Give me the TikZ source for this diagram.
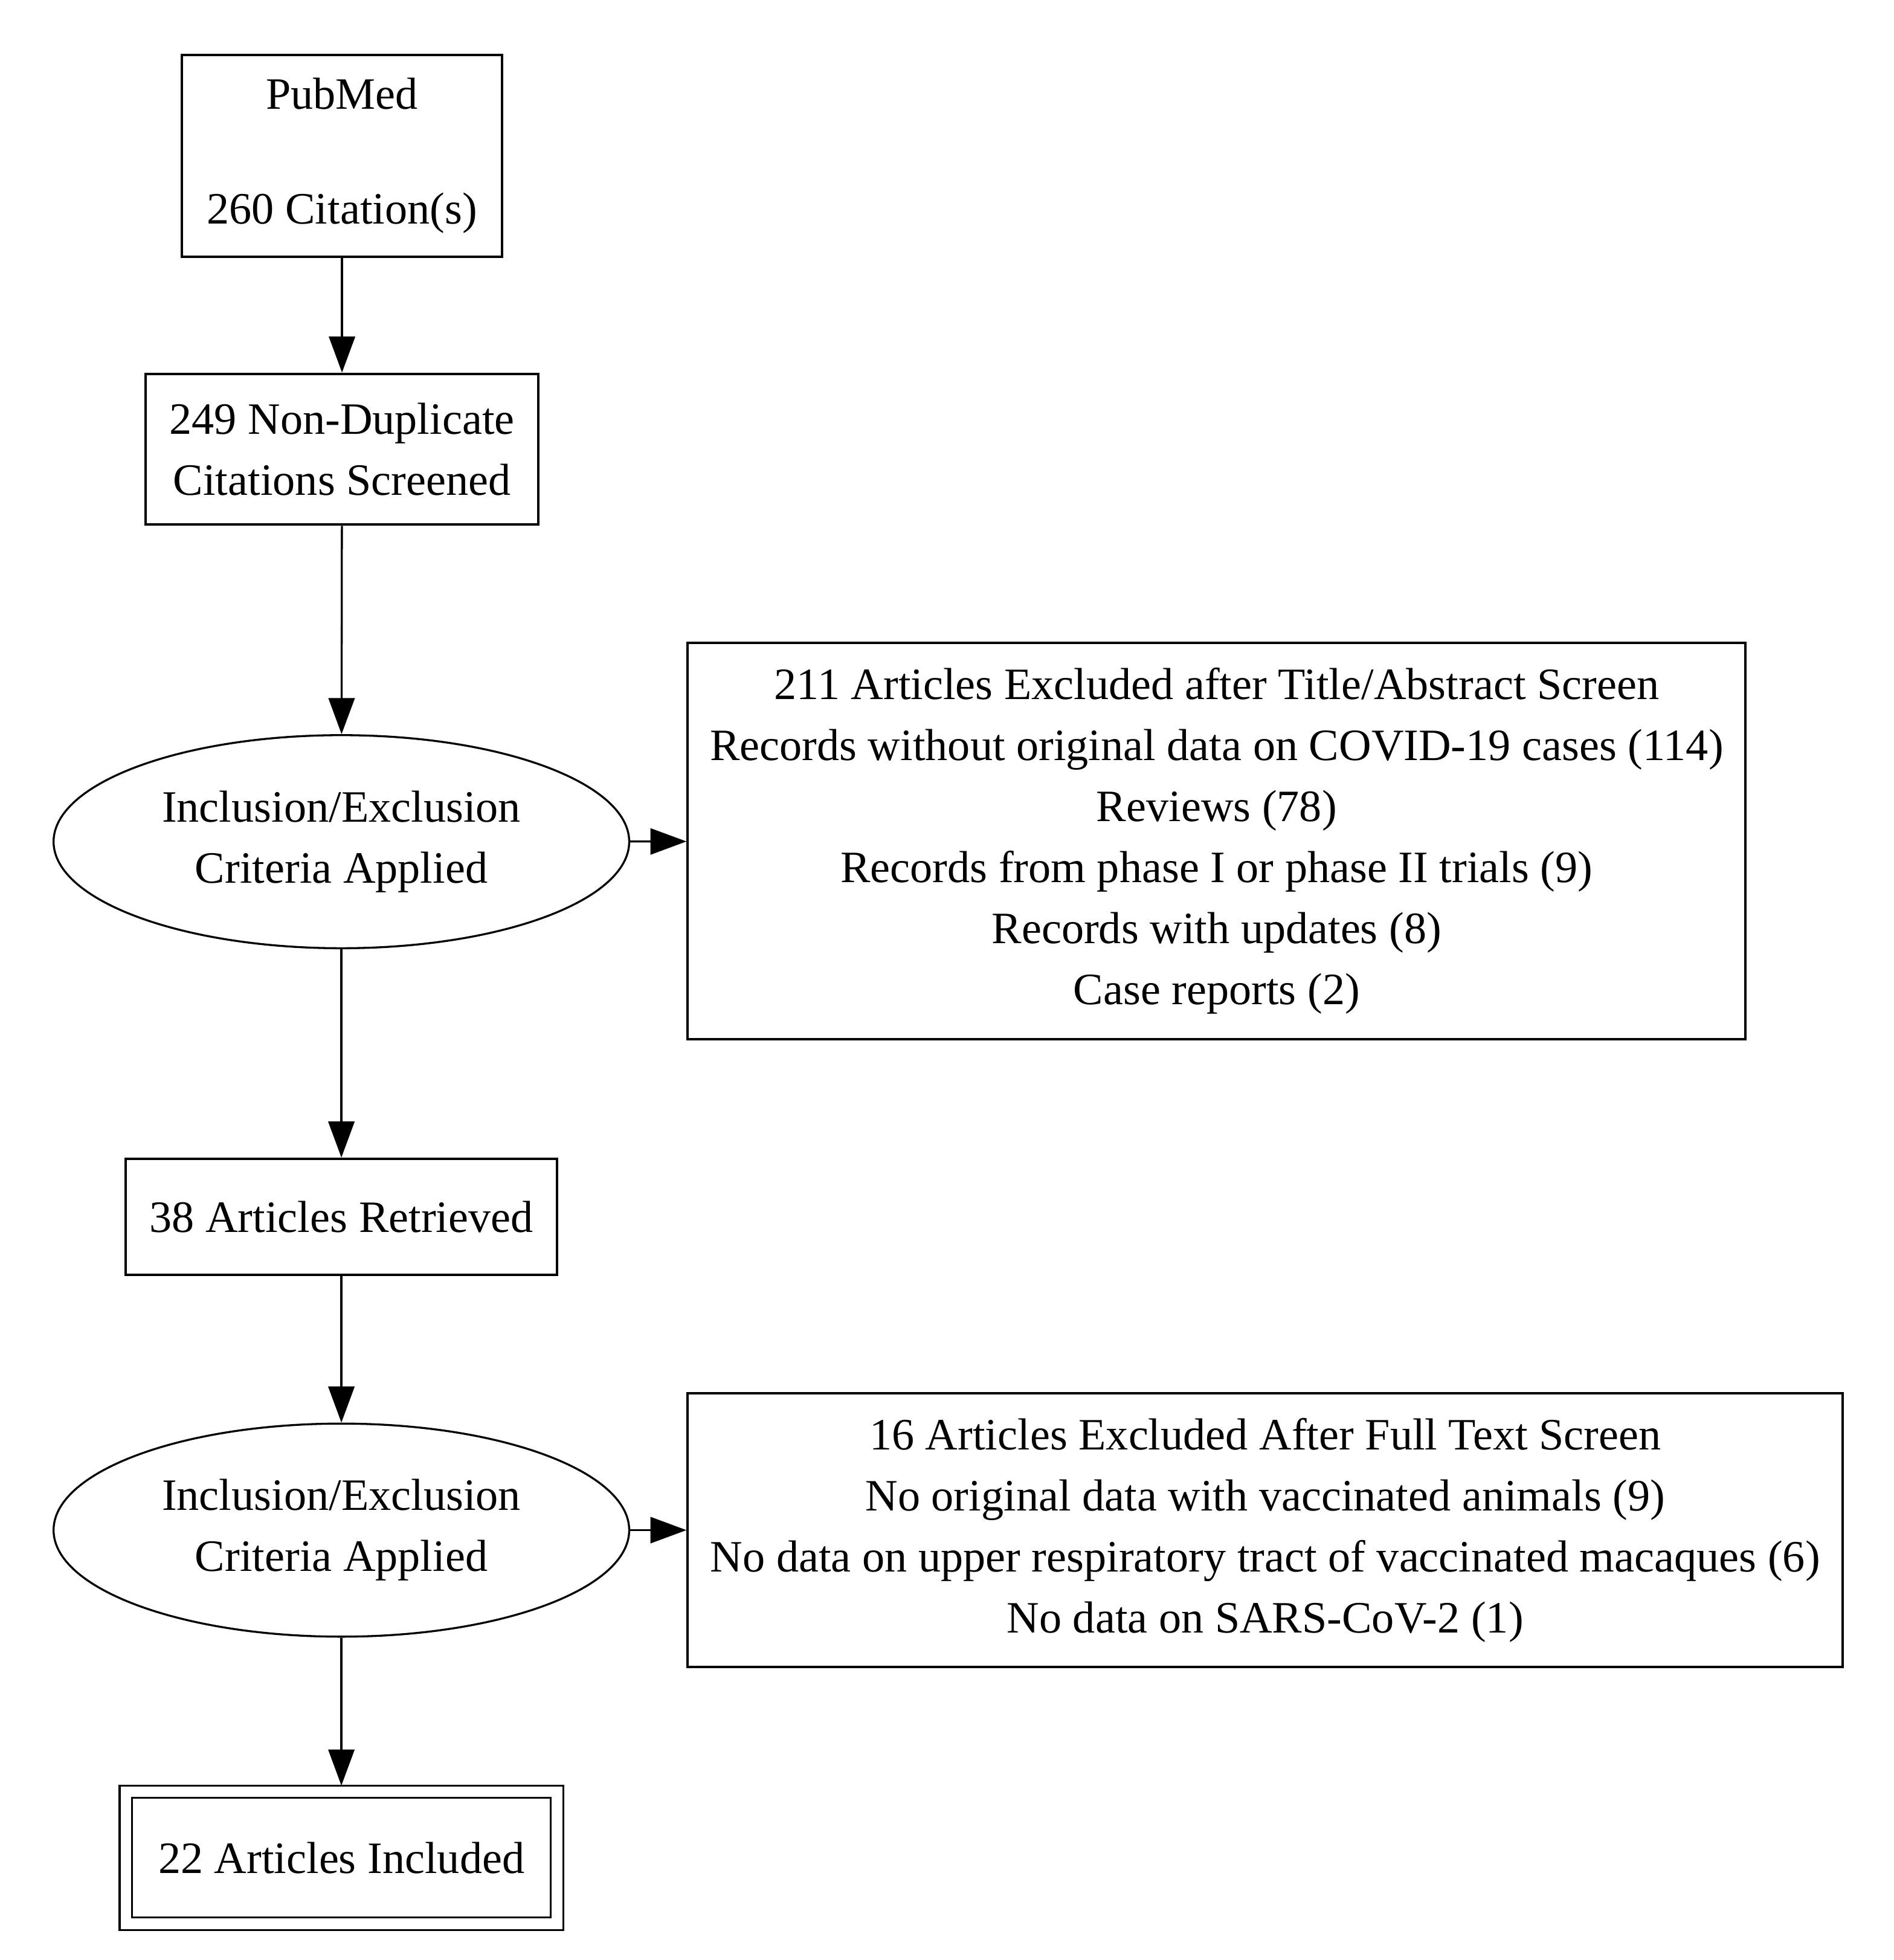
\documentclass[tikz,border=0pt]{standalone}
\usepackage{fontspec}
\setmainfont{Liberation Serif}
\usetikzlibrary{arrows.meta,shapes.geometric}
\begin{document}
\begin{tikzpicture}[x=0.5pt,y=-0.5pt,
  every node/.style={font=\fontsize{18}{24.5}\selectfont, align=center, inner sep=0pt},
  box/.style={draw, line width=1pt, rectangle},
  oval/.style={draw, line width=0.8pt, ellipse},
  arr/.style={line width=0.8pt, -{Triangle[length=14.5pt,width=10.5pt]}}]
\useasboundingbox (0,0) rectangle (1520,1573);
\node[box, minimum width=128.5pt, minimum height=81pt] (pub) at (274.5,125) {PubMed\\[-1.5pt]\\[-1.5pt]260 Citation(s)};
\node[box, minimum width=157.5pt, minimum height=60.5pt] (nd) at (274.5,360.5) {249 Non-Duplicate\\Citations Screened};
\node[oval, minimum width=231pt, minimum height=85.5pt] (c1) at (274,675.5) {Inclusion/Exclusion\\Criteria Applied};
\node[box, minimum width=173pt, minimum height=46.5pt] (ret) at (274,976.5) {38 Articles Retrieved};
\node[oval, minimum width=231pt, minimum height=85.5pt] (c2) at (274,1228) {Inclusion/Exclusion\\Criteria Applied};
\node[box, double, double distance=4.25pt, line width=0.75pt, outer sep=2.5pt, minimum width=173pt, minimum height=53pt] (inc) at (274,1491) {22 Articles Included};
\node[box, minimum width=424.5pt, minimum height=159pt] (ex1) at (976.5,675) {211 Articles Excluded after Title/Abstract Screen\\Records without original data on COVID-19 cases (114)\\Reviews (78)\\Records from phase I or phase II trials (9)\\Records with updates (8)\\Case reports (2)};
\node[box, minimum width=463.5pt, minimum height=110pt] (ex2) at (1015.5,1228) {16 Articles Excluded After Full Text Screen\\No original data with vaccinated animals (9)\\No data on upper respiratory tract of vaccinated macaques (6)\\No data on SARS-CoV-2 (1)};
\draw[arr] (pub) -- (nd);
\draw[arr] (nd) -- (c1);
\draw[arr] (c1) -- (ret);
\draw[arr] (ret) -- (c2);
\draw[arr] (c2) -- (inc);
\draw[arr] (c1) -- (ex1);
\draw[arr] (c2) -- (ex2);
\end{tikzpicture}
\end{document}
